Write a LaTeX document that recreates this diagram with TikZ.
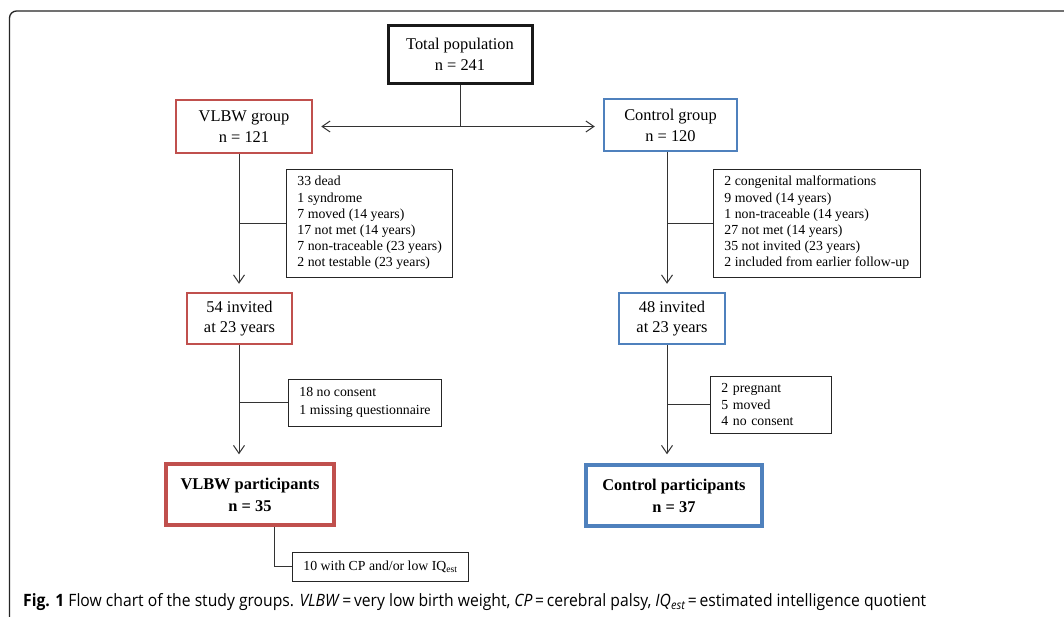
\documentclass[tikz,border=0pt]{standalone}
\usepackage{fontspec}
\setmainfont{Liberation Serif}
\newfontfamily\capfont{Open Sans}
\usepackage{graphicx}
\usetikzlibrary{arrows.meta}
\definecolor{vred}{HTML}{C0504D}
\definecolor{cblue}{HTML}{4F81BD}
\begin{document}
\begin{tikzpicture}[x=1pt,y=-1pt,
  >={Straight Barb[length=8pt,width=11pt]},
  bigbox/.style={draw, align=center, inner sep=0pt, font=\fontsize{16.4}{21}\selectfont},
  blackbox/.style={bigbox, draw=black!90, line width=3pt},
  redbox/.style={bigbox, draw=vred, line width=2.5pt},
  bluebox/.style={bigbox, draw=cblue, line width=2.5pt},
  finalred/.style={redbox, line width=3.5pt},
  finalblue/.style={bluebox, line width=3.5pt},
  exbox/.style={draw=black!85, line width=0.9pt, align=left, inner xsep=11pt, inner ysep=0pt, anchor=west, font=\fontsize{13.8}{16.2}\selectfont},
  conn/.style={draw=black!80, line width=1pt},
  arr/.style={conn, ->}]
\useasboundingbox (0,0) rectangle (1064,616);
\clip (0,0) rectangle (1064,616);
\fill[white] (0,0) rectangle (1064,616);
\draw[line width=1.3pt, draw=black!85, rounded corners=7pt] (9.5,700) -- (9.5,11) -- (1100,11);

\coordinate (lx) at (239,0);
\coordinate (rx) at (667,0);
\coordinate (px) at (274,0);

\node[blackbox, minimum width=144pt, minimum height=58pt] (tot) at (460,54) {Total population\\n = 241};
\node[redbox, minimum width=136pt, minimum height=53pt] (vg) at (244,126.5) {VLBW group\\n = 121};
\node[bluebox, minimum width=133pt, minimum height=52pt] (cg) at (670.5,125) {Control group\\n = 120};

\node[exbox, minimum height=108pt] (ex1) at (286,223) {33 dead\\1 syndrome\\7 moved (14 years)\\17 not met (14 years)\\7 non-traceable (23 years)\\2 not testable (23 years)};
\node[exbox, minimum height=108pt] (ex2) at (713,223) {2 congenital malformations\\9 moved (14 years)\\1 non-traceable (14 years)\\27 not met (14 years)\\35 not invited (23 years)\\2 included from earlier follow-up};

\node[redbox, minimum width=105pt, minimum height=51pt, font=\fontsize{16.4}{19.5}\selectfont] (inv1) at (239.5,318.5) {54 invited\\at 23 years};
\node[bluebox, minimum width=106pt, minimum height=51pt, font=\fontsize{16.4}{19.5}\selectfont] (inv2) at (672,318.5) {48 invited\\at 23 years};

\node[exbox, minimum height=47pt, font=\fontsize{13.8}{18}\selectfont] (ex3) at (288,402.5) {18 no consent\\1 missing questionnaire};
\node[exbox, minimum height=57pt, text width=99pt] (ex4) at (710,404.5) {2 pregnant\\5 moved\\4 no consent};

\node[finalred, minimum width=168pt, minimum height=61pt, font=\fontsize{16.4}{22}\selectfont\bfseries] (vp) at (250,494.5) {VLBW participants\\n = 35};
\node[finalblue, minimum width=176pt, minimum height=61pt, font=\fontsize{16.4}{22}\selectfont\bfseries] (cp) at (674,495.5) {Control participants\\n = 37};

\node[exbox, minimum height=29pt] (ex5) at (292,566.5) {10 with CP and/or low IQ\textsubscript{est}};

\draw[conn] (tot.south) -- (tot.south |- vg.east);
\draw[conn, <->, shorten <=8pt, shorten >=8pt] (vg.east) -- (vg.east -| cg.west);
\draw[arr, shorten >=8pt] (vg.south -| lx) -- (inv1.north -| lx);
\draw[conn] (ex1.west) -- (ex1.west -| lx);
\draw[arr, shorten >=8pt] (inv1.south -| lx) -- (vp.north -| lx);
\draw[conn] (ex3.west) -- (ex3.west -| lx);
\draw[arr, shorten >=8pt] (cg.south -| rx) -- (inv2.north -| rx);
\draw[conn] (ex2.west) -- (ex2.west -| rx);
\draw[arr, shorten >=9pt] (inv2.south -| rx) -- (cp.north -| rx);
\draw[conn] (ex4.west) -- (ex4.west -| rx);
\draw[conn] (vp.south -| px) |- (ex5.west);

\node[anchor=base west, inner sep=0pt] (cap) at (23,606.5) {\resizebox{903pt}{\height}{\capfont\fontsize{17}{19}\selectfont\textbf{Fig. 1} Flow chart of the study groups. \textit{VLBW}\,=\,very low birth weight, \textit{CP}\,=\,cerebral palsy, \textit{IQ\textsubscript{est}}\,=\,estimated intelligence quotient}};
\end{tikzpicture}
\end{document}
